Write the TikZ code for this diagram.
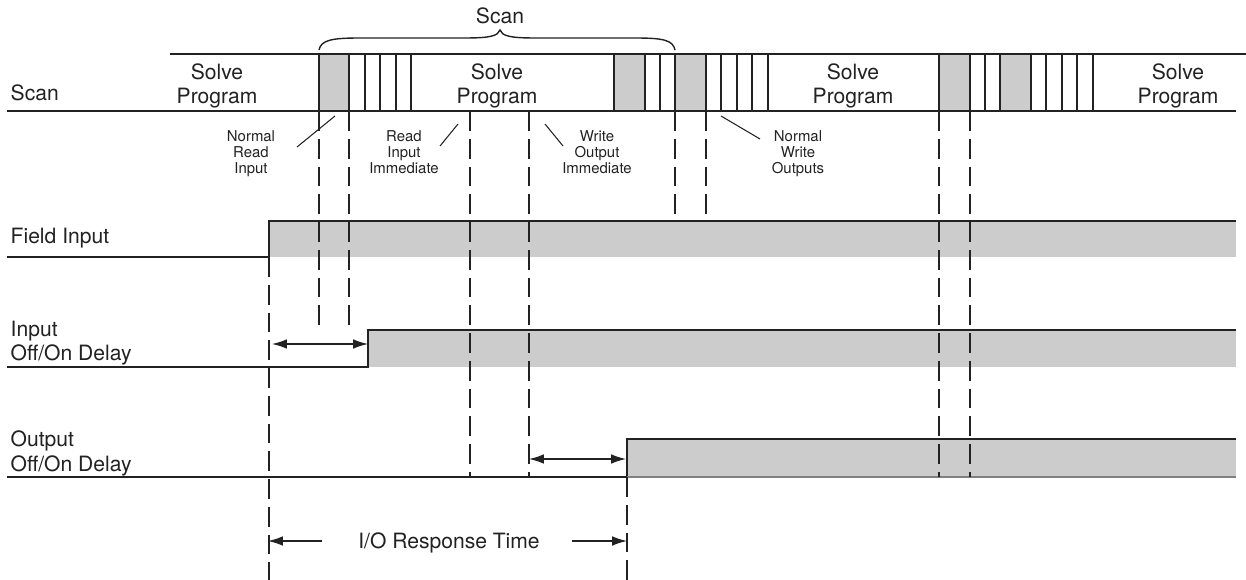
\documentclass[tikz,border=0pt]{standalone}
\usepackage{fontspec}
\setmainfont{TeX Gyre Heros}
\usepackage{xcolor}
\usepackage{tikz}
\usetikzlibrary{arrows.meta,positioning}

\definecolor{levelgray}{HTML}{CCCCCC}
\definecolor{inkgray}{HTML}{222222}

\begin{document}
\begin{tikzpicture}[x=0.02cm, y=-0.02cm, >={Latex[length=8.5pt,width=5.5pt]},
  line width=0.8pt, color=inkgray,
  big text/.style={font=\fontsize{12}{13.6}\selectfont, inner sep=0pt, align=center},
  small text/.style={font=\fontsize{8.5}{9.2}\selectfont, inner sep=0pt, align=center},
  row text/.style={font=\fontsize{12}{14}\selectfont, inner sep=0pt, align=left},
  guide/.style={dash pattern=on 11.3pt off 4.5pt}]

\useasboundingbox (0,0) rectangle (1246,580);

% scan bar
\draw (170,54) -- (1246,54);
\draw (7,111) -- (1236,111);
\foreach \a/\b in {319/349,614/645,675/706,939/970,1000/1031}
  \filldraw[fill=levelgray] (\a,54) rectangle (\b,111);
\foreach \x in {365,380,396,411,660,721,737,752,768,985,1046,1062,1077,1093}
  \draw (\x,54) -- (\x,111);

\node [big text, anchor=base west] (scan-row) at (10,101) {Scan};
\foreach \x [count=\i] in {217,497,853,1178}
  \node [big text, anchor=north] (solve-\i) at (\x,63) {Solve\\Program};

% brace over one scan
\node [big text, anchor=base] (scan-top) at (500,24) {Scan};
\draw (319,50) .. controls (321,40) and (332,38) .. (360,38) -- (465,38)
  .. controls (490,38) and (498,36) .. (500,30)
  .. controls (502,36) and (510,38) .. (535,38) -- (635,38)
  .. controls (663,38) and (673,40) .. (675,50);

% callouts
\node [small text, anchor=north] (normal-read) at (251,130) {Normal\\Read\\Input};
\node [small text, anchor=north] (read-imm) at (404,130) {Read\\Input\\Immediate};
\node [small text, anchor=north] (write-imm) at (597,130) {Write\\Output\\Immediate};
\node [small text, anchor=north] (normal-write) at (798,130) {Normal\\Write\\Outputs};

\coordinate (normal-read-a) at (297,147);
\coordinate (normal-read-b) at (335,116);
\coordinate (read-imm-a) at (440,146);
\coordinate (read-imm-b) at (458,124);
\coordinate (write-imm-a) at (563,146);
\coordinate (write-imm-b) at (545,124);
\coordinate (normal-write-a) at (760,139);
\coordinate (normal-write-b) at (721,116);
\foreach \n in {normal-read,read-imm,write-imm,normal-write}
  \draw [line width=0.6pt] (\n-a) -- (\n-b);

% signals
\node [row text, anchor=base west] (field-lbl) at (10,244) {Field Input};
\node [row text, anchor=north west] (input-lbl) at (10,320) {Input\\Off/On Delay};
\node [row text, anchor=north west] (output-lbl) at (10,430) {Output\\Off/On Delay};

\fill [levelgray] (269,221) rectangle (1236,257);
\draw (7,257) -| (269,221) -- (1236,221);
\fill [levelgray] (368,330) rectangle (1236,367);
\draw (7,367) -| (368,330) -- (1236,330);
\fill [levelgray] (627,439) rectangle (1236,477);
\draw (7,477) -| (627,439) -- (1236,439);
\draw [gray] (627,477) -- (1236,477);

% guides
\foreach \x/\a/\b in {319/111/330, 349/111/330, 269/257/580, 470/111/477,
  529/111/477, 675/111/221, 706/111/221, 939/111/477, 970/111/477, 627/477/580}
  \draw [guide] (\x,\a) -- (\x,\b);

% delays
\coordinate (in-delay-a) at (272,344);
\coordinate (in-delay-b) at (368,344);
\coordinate (out-delay-a) at (529,459);
\coordinate (out-delay-b) at (626,459);
\draw [<->] (in-delay-a) -- (in-delay-b);
\draw [<->] (out-delay-a) -- (out-delay-b);

\node [big text, anchor=base] (io-lbl) at (449,548) {I/O Response Time};
\coordinate (io-a) at (268,541);
\coordinate (io-b) at (627,541);
\draw [->] (322,541) -- (io-a);
\draw [->] (572,541) -- (io-b);

\end{tikzpicture}
\end{document}
